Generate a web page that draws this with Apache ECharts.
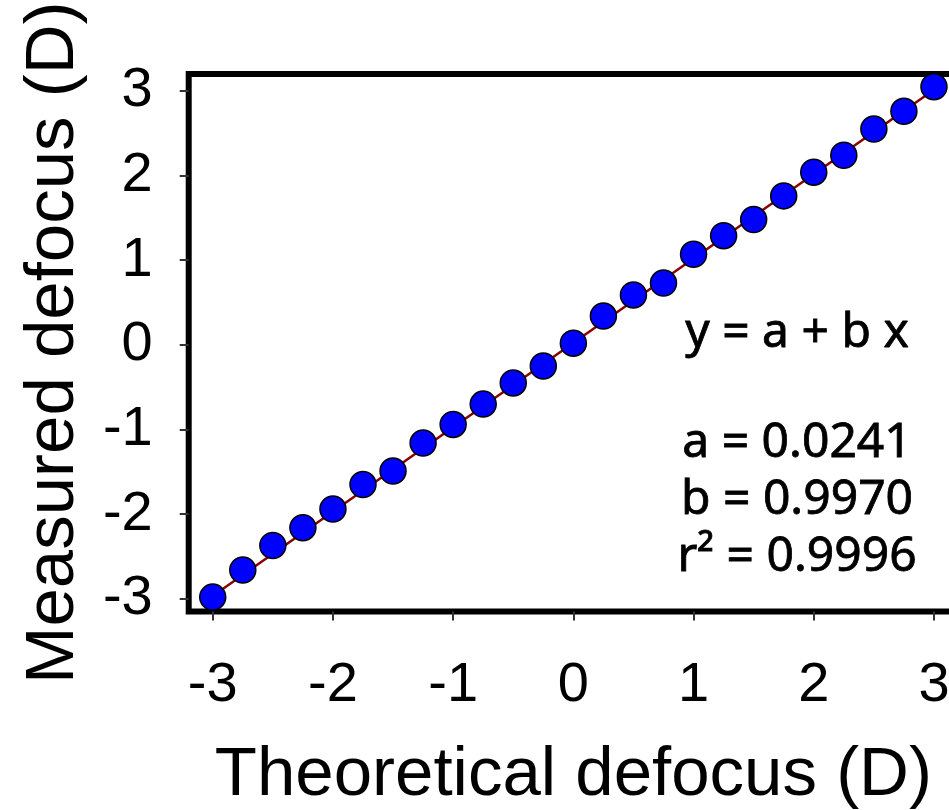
<!DOCTYPE html>
<html>
<head>
<meta charset="utf-8">
<script src="https://cdn.jsdelivr.net/npm/echarts@6/dist/echarts.min.js"></script>
<style>
html,body{margin:0;padding:0;background:#fff;}
#chart{width:949px;height:810px;}
</style>
</head>
<body>
<div id="chart"></div>
<script>
// Data
var theoretical = [-3,-2.75,-2.5,-2.25,-2,-1.75,-1.5,-1.25,-1,-0.75,-0.5,-0.25,0,0.25,0.5,0.75,1,1.25,1.5,1.75,2,2.25,2.5,2.75,3];
var measured = [-2.98,-2.66,-2.37,-2.16,-1.94,-1.65,-1.49,-1.16,-0.94,-0.70,-0.45,-0.25,0.02,0.34,0.59,0.73,1.07,1.29,1.48,1.76,2.04,2.24,2.55,2.76,3.05];
var fitX = [-3, 3];
var fitY = [-2.967, 3.015];
var xTicks = [-3,-2,-1,0,1,2,3];
var yTicks = [-3,-2,-1,0,1,2,3];
var annotationLines = ['y = a + b x', 'a = 0.0241', 'b = 0.9970', 'r\u00b2 = 0.9996'];

var pts = theoretical.map(function(x,i){return [x, measured[i]];});
var fitPts = fitX.map(function(x,i){return [x, fitY[i]];});

var annY = [333, 443, 500, 557];
var graphics = annotationLines.map(function(t,i){
  return {type:'text', x:797, y:annY[i], z:10,
    style:{text:t, textAlign:'center', textVerticalAlign:'middle',
      font:'48px "Noto Sans", sans-serif', fill:'#000', stroke:'#000', lineWidth:0.8}};
});

var chart = echarts.init(document.getElementById('chart'), null, {renderer:'canvas'});
chart.setOption({
  animation:false,
  backgroundColor:'#fff',
  grid:{left:188.7, top:74, width:769.3, height:537.5, show:true,
        outerBoundsMode:'none', containLabel:false,
        borderColor:'#000', borderWidth:6, backgroundColor:'transparent'},
  xAxis:{type:'value', min:-3.2, max:3.2,
    name:'Theoretical defocus (D)', nameLocation:'middle', nameGap:130,
    nameTextStyle:{fontSize:69, fontFamily:'"Liberation Sans", Arial, sans-serif', color:'#000'},
    axisLine:{show:false, onZero:false}, splitLine:{show:false},
    axisTick:{show:true, customValues:xTicks, length:9, lineStyle:{color:'#333', width:2}},
    axisLabel:{customValues:xTicks, fontSize:56, fontFamily:'"Liberation Sans", Arial, sans-serif', color:'#000', margin:46}
  },
  yAxis:{type:'value', min:-3.15, max:3.2,
    name:'Measured defocus (D)', nameLocation:'middle', nameGap:100, nameRotate:90,
    nameTextStyle:{fontSize:69, fontFamily:'"Liberation Sans", Arial, sans-serif', color:'#000'},
    axisLine:{show:false, onZero:false}, splitLine:{show:false},
    axisTick:{show:true, customValues:yTicks, length:9, lineStyle:{color:'#333', width:2}},
    axisLabel:{customValues:yTicks, fontSize:56, fontFamily:'"Liberation Sans", Arial, sans-serif', color:'#000', margin:36}
  },
  graphic:graphics,
  series:[
    {type:'line', data:fitPts, symbol:'none', z:2,
     lineStyle:{color:'#8B0000', width:2.5}},
    {type:'scatter', data:pts, symbol:'circle', symbolSize:26, z:3,
     itemStyle:{color:'#0000FF', borderColor:'#000', borderWidth:1.5, opacity:1}}
  ]
});
</script>
</body>
</html>
